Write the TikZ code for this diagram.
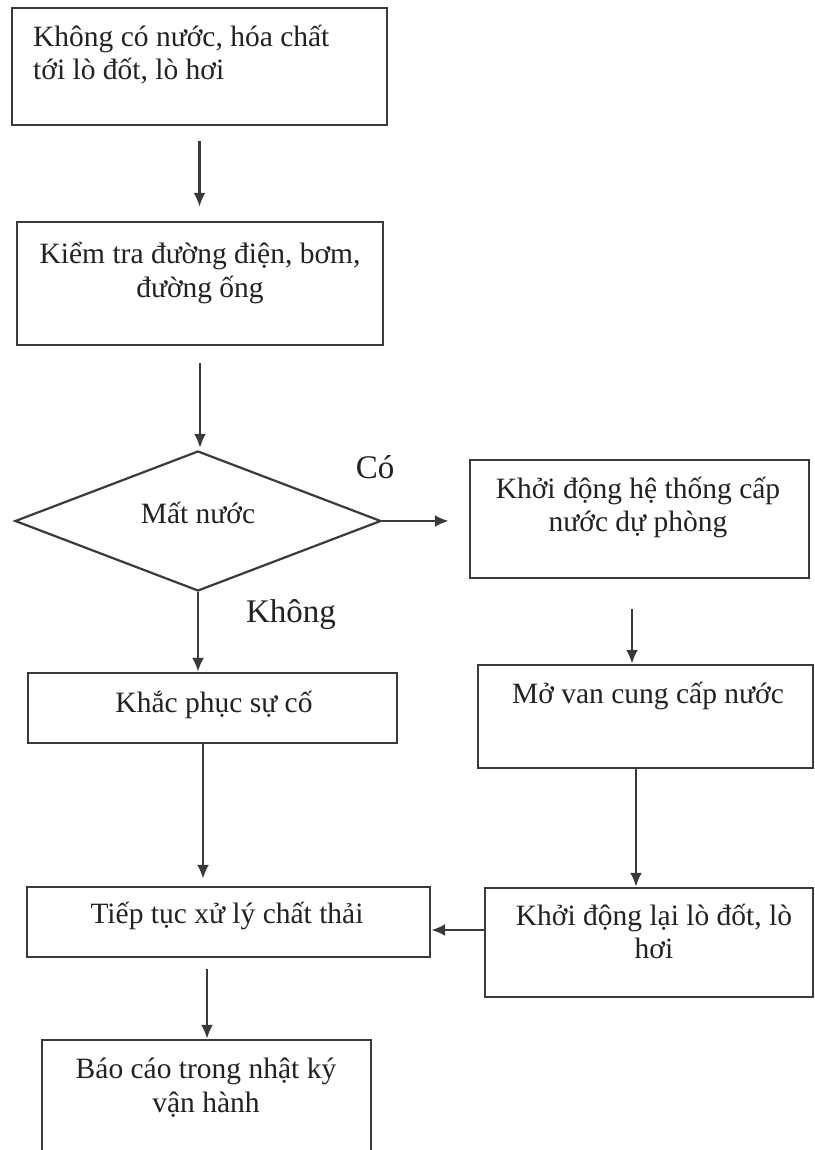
\documentclass[tikz,border=0pt]{standalone}
\usepackage{fontspec}
\setmainfont{Liberation Serif}
\usetikzlibrary{shapes.geometric,arrows.meta}
\definecolor{ln}{HTML}{3A3A3A}
\definecolor{tx}{HTML}{222222}
\begin{document}
\begin{tikzpicture}[x=1pt,y=-1pt,
  box/.style={draw=ln, line width=2.4pt, rectangle, inner sep=0pt},
  dia/.style={draw=ln, line width=2.2pt, diamond, inner sep=0pt},
  txt/.style={anchor=base, inner sep=0pt, text=tx, font=\fontsize{29.5}{35}\selectfont},
  lbl/.style={anchor=base, inner sep=0pt, text=tx, font=\fontsize{33}{40}\selectfont},
  arr/.style={draw=ln, line width=2.4pt, -{Latex[length=14pt,width=12pt]}}
]
\useasboundingbox[fill=white] (0,0) rectangle (814,1150);

% boxes
\node[box, minimum width=375pt, minimum height=117pt] (b1) at (199.5,66.5) {};
\node[box, minimum width=366pt, minimum height=123pt] (b2) at (200,283.5) {};
\node[dia, minimum width=366pt, minimum height=140pt] (d) at (198,521) {};
\node[box, minimum width=339pt, minimum height=118pt] (b3) at (639.5,519) {};
\node[box, minimum width=369pt, minimum height=70pt] (b4) at (212.5,708) {};
\node[box, minimum width=335pt, minimum height=103pt] (b5) at (645.5,716.5) {};
\node[box, minimum width=403pt, minimum height=70pt] (b6) at (228.5,922) {};
\node[box, minimum width=328pt, minimum height=109pt] (b7) at (649,942.5) {};
\node[box, minimum width=329pt, minimum height=140pt] (b8) at (206.5,1110) {};

% texts
\node[txt, anchor=base west] (t1a) at (33,47) {Không có nước, hóa chất};
\node[txt, anchor=base west] (t1b) at (33,80) {tới lò đốt, lò hơi};
\node[txt] (t2a) at (200,263) {Kiểm tra đường điện, bơm,};
\node[txt] (t2b) at (200,297) {đường ống};
\node[txt] (td) at (198,523) {Mất nước};
\node[txt] (t3a) at (638,498) {Khởi động hệ thống cấp};
\node[txt] (t3b) at (638,531) {nước dự phòng};
\node[txt] (t4) at (214,712) {Khắc phục sự cố};
\node[txt] (t5) at (648,703) {Mở van cung cấp nước};
\node[txt] (t6) at (227,923) {Tiếp tục xử lý chất thải};
\node[txt] (t7a) at (654,925) {Khởi động lại lò đốt, lò};
\node[txt] (t7b) at (654,958) {hơi};
\node[txt] (t8a) at (206,1078) {Báo cáo trong nhật ký};
\node[txt] (t8b) at (206,1112) {vận hành};
\node[lbl] (lco) at (375,478) {Có};
\node[lbl] (lkh) at (291,622) {Không};

% connector anchors
\coordinate (p1) at (b1.south);
\coordinate (p2) at (b2.south);
\coordinate (p5) at ([xshift=-7.5pt]b3.south);
\coordinate (p6) at ([xshift=-9.5pt]b4.south);
\coordinate (p7) at ([xshift=-9.5pt]b5.south);
\coordinate (p8) at ([yshift=12.5pt]b7.west);
\coordinate (p9) at ([xshift=-21.5pt]b6.south);

% connectors
\draw[arr, shorten <=15pt, shorten >=14pt] (p1) -- (p1 |- b2.north);
\draw[arr, shorten <=17pt, shorten >=2pt] (p2) -- (p2 |- d.north);
\draw[arr, shorten >=20pt] (d.east) -- (d.east -| b3.west);
\draw[arr] (d.south) -- (d.south |- b4.north);
\draw[arr, shorten <=30pt] (p5) -- (p5 |- b5.north);
\draw[arr, shorten >=7pt] (p6) -- (p6 |- b6.north);
\draw[arr] (p7) -- (p7 |- b7.north);
\draw[arr] (p8) -- (p8 -| b6.east);
\draw[arr, shorten <=11pt] (p9) -- (p9 |- b8.north);
\end{tikzpicture}
\end{document}
